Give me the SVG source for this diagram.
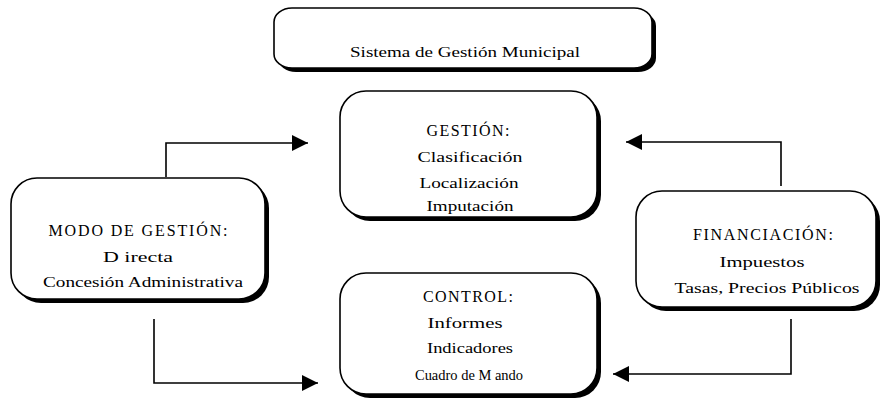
<svg xmlns="http://www.w3.org/2000/svg" width="886" height="405" viewBox="0 0 886 405">
  <defs>
    <marker id="arrow" viewBox="0 0 16 16" refX="16" refY="8" markerWidth="16" markerHeight="16" markerUnits="userSpaceOnUse" orient="auto">
      <path d="M0,0 L16,8 L0,16 Z" fill="#000"/>
    </marker>
  </defs>
  <style>
    .shadow { fill: #000; }
    .box { fill: #fff; stroke: #000; stroke-width: 1.6; }
    .head { font-family: "Liberation Serif", "Times New Roman", serif; font-size: 16px; fill: #000; text-anchor: middle; }
    .item { font-family: "Liberation Serif", "Times New Roman", serif; font-size: 15px; fill: #000; text-anchor: middle; }
    .link { fill: none; stroke: #000; stroke-width: 1.6; }
  </style>
  <rect width="886" height="405" fill="#fff"/>

  <g id="sistema">
    <rect class="shadow" x="278" y="12" width="378" height="60" rx="18" ry="14"/>
    <rect class="box" x="274" y="8" width="378" height="60" rx="18" ry="14"/>
    <text class="item" x="465" y="57" textLength="230" lengthAdjust="spacingAndGlyphs">Sistema de Gestión Municipal</text>
  </g>

  <g id="gestion">
    <rect class="shadow" x="344" y="95" width="257" height="126" rx="26" ry="26"/>
    <rect class="box" x="340" y="91" width="257" height="126" rx="26" ry="26"/>
    <text class="head" x="468" y="136" textLength="83" lengthAdjust="spacing">GESTIÓN:</text>
    <text class="item" x="470" y="162" textLength="105" lengthAdjust="spacingAndGlyphs">Clasificación</text>
    <text class="item" x="469" y="188" textLength="99" lengthAdjust="spacingAndGlyphs">Localización</text>
    <text class="item" x="470" y="211" textLength="87" lengthAdjust="spacingAndGlyphs">Imputación</text>
  </g>

  <g id="modo-gestion">
    <rect class="shadow" x="15" y="182" width="254" height="121" rx="26" ry="26"/>
    <rect class="box" x="11" y="178" width="254" height="121" rx="26" ry="26"/>
    <text class="head" x="138" y="236" textLength="179" lengthAdjust="spacing">MODO DE GESTIÓN:</text>
    <text class="item" x="138" y="262" textLength="70" lengthAdjust="spacingAndGlyphs">D irecta</text>
    <text class="item" x="143" y="287" textLength="200" lengthAdjust="spacingAndGlyphs">Concesión Administrativa</text>
  </g>

  <g id="financiacion">
    <rect class="shadow" x="640" y="195" width="240" height="116" rx="26" ry="26"/>
    <rect class="box" x="636" y="191" width="240" height="116" rx="26" ry="26"/>
    <text class="head" x="763" y="240" textLength="140" lengthAdjust="spacing">FINANCIACIÓN:</text>
    <text class="item" x="762" y="267" textLength="85" lengthAdjust="spacingAndGlyphs">Impuestos</text>
    <text class="item" x="767" y="293" textLength="185" lengthAdjust="spacingAndGlyphs">Tasas, Precios Públicos</text>
  </g>

  <g id="control">
    <rect class="shadow" x="344" y="277" width="257" height="121" rx="26" ry="26"/>
    <rect class="box" x="340" y="273" width="257" height="121" rx="26" ry="26"/>
    <text class="head" x="468" y="302" textLength="90" lengthAdjust="spacing">CONTROL:</text>
    <text class="item" x="465" y="328" textLength="75" lengthAdjust="spacingAndGlyphs">Informes</text>
    <text class="item" x="470" y="353" textLength="86" lengthAdjust="spacingAndGlyphs">Indicadores</text>
    <text class="item" x="469" y="380" textLength="108" lengthAdjust="spacingAndGlyphs">Cuadro de M ando</text>
  </g>

  <g id="connectors">
    <polyline class="link" points="166,177 166,143 308,143" marker-end="url(#arrow)"/>
    <polyline class="link" points="154,319 154,383 318,383" marker-end="url(#arrow)"/>
    <polyline class="link" points="781,186 781,142 626,142" marker-end="url(#arrow)"/>
    <polyline class="link" points="791,319 791,374 613,374" marker-end="url(#arrow)"/>
  </g>
</svg>
